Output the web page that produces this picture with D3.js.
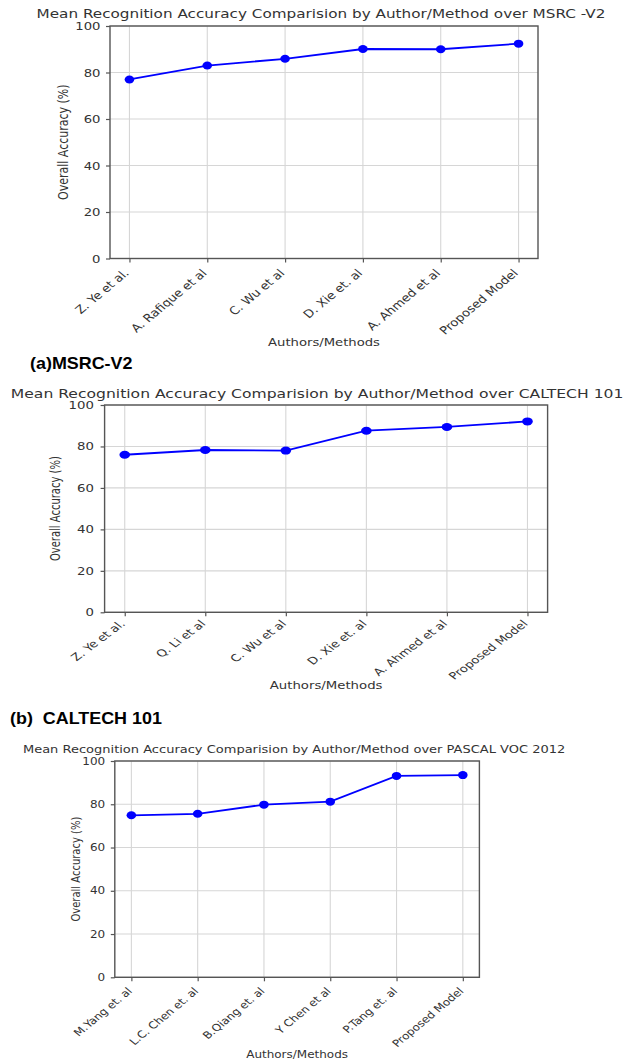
<!DOCTYPE html>
<html>
<head>
<meta charset="UTF-8">
<style>
    body { margin: 0; background: white; }
    text { font-family: "DejaVu Sans", sans-serif; fill: #333; }
    .grid line { stroke: #d6d6d6; stroke-width: 1.1; }
    .frame { fill: none; stroke: #555; stroke-width: 1.4; }
    .axis path { display: none; }
    .axis line { stroke: #555; stroke-width: 1.2; }
    .caption { font-family: "Liberation Sans", Arial, sans-serif; font-weight: bold; fill: #000; white-space: pre; }
</style>
</head>
<body>
<svg width="636" height="1064"></svg>
<script src="https://d3js.org/d3.v7.min.js"></script>
<script>
// data
var msrcMethods = ["Z. Ye et al.", "A. Rafique et al", "C. Wu et al", "D. Xie et. al", "A. Ahmed et al", "Proposed Model"];
var msrcAccuracy = [77.0, 83.0, 85.9, 90.1, 90.0, 92.4];

var caltechMethods = ["Z. Ye et al.", "Q. Li et al", "C. Wu et al", "D. Xie et. al", "A. Ahmed et al", "Proposed Model"];
var caltechAccuracy = [76.0, 78.3, 78.0, 87.6, 89.4, 92.1];

var pascalMethods = ["M.Yang et. al", "L.C. Chen et. al", "B.Qiang et. al", "Y Chen et al", "P.Tang et. al", "Proposed Model"];
var pascalAccuracy = [74.9, 75.6, 79.8, 81.2, 93.1, 93.5];

var yTicks = [0, 20, 40, 60, 80, 100];

var titles = [
    "Mean Recognition Accuracy Comparision by Author/Method over MSRC -V2",
    "Mean Recognition Accuracy Comparision by Author/Method over CALTECH 101",
    "Mean Recognition Accuracy Comparision by Author/Method over PASCAL VOC 2012"
];
var captions = ["(a)MSRC-V2", "(b)  CALTECH 101", null];

// the source figure is stretched sideways, so text gets a horizontal scale (sx)
var panels = [
    { methods: msrcMethods, values: msrcAccuracy, title: titles[0], caption: captions[0],
      left: 110, right: 538, top: 26, bottom: 258.5,
      titleDx: -3, titleY: 18, titleSize: 12, tsx: 1.27,
      fs: 11, sx: 1.2, lx: -3.5, ly: 12.5,
      yLabX: 63, xLabY: 346, capX: 30, capY: 369 },
    { methods: caltechMethods, values: caltechAccuracy, title: titles[1], caption: captions[1],
      left: 104.6, right: 547.6, top: 405, bottom: 612.3,
      titleDx: -9, titleY: 398, titleSize: 12, tsx: 1.3,
      fs: 10, sx: 1.33, lx: -2.6, ly: 9.6,
      yLabX: 55, xLabY: 689, capX: 10, capY: 724 },
    { methods: pascalMethods, values: pascalAccuracy, title: titles[2], caption: captions[2],
      left: 114.8, right: 479.4, top: 761, bottom: 977.3,
      titleDx: -3, titleY: 753, titleSize: 10.5, tsx: 1.24,
      fs: 10, sx: 1.2, lx: -2, ly: 12,
      yLabX: 75.5, xLabY: 1058 }
];

var svg = d3.select("svg");

panels.forEach(function(p) {
    var g = svg.append("g");

    var x = d3.scalePoint()
        .domain(p.methods)
        .range([p.left, p.right])
        .padding(0.25);

    var y = d3.scaleLinear()
        .domain([0, 100])
        .range([p.bottom, p.top]);

    // grid
    g.append("g").attr("class", "grid")
        .selectAll("line").data(yTicks).enter().append("line")
        .attr("x1", p.left).attr("x2", p.right)
        .attr("y1", function(d) { return y(d); })
        .attr("y2", function(d) { return y(d); });
    g.append("g").attr("class", "grid")
        .selectAll("line").data(p.methods).enter().append("line")
        .attr("x1", function(d) { return x(d); })
        .attr("x2", function(d) { return x(d); })
        .attr("y1", p.top).attr("y2", p.bottom);

    g.append("rect").attr("class", "frame")
        .attr("x", p.left).attr("y", p.top)
        .attr("width", p.right - p.left).attr("height", p.bottom - p.top);

    // y axis
    var ya = g.append("g").attr("class", "axis")
        .attr("transform", "translate(" + p.left + ",0)")
        .call(d3.axisLeft(y).tickValues(yTicks).tickSize(4).tickPadding(4));
    ya.selectAll("text")
        .style("font-size", p.fs + "px")
        .attr("fill", "#333")
        .attr("transform", "scale(" + p.sx + ",1)");

    // x axis
    var xa = g.append("g").attr("class", "axis")
        .attr("transform", "translate(0," + p.bottom + ")")
        .call(d3.axisBottom(x).tickSize(4));
    xa.selectAll("text")
        .style("font-size", p.fs + "px")
        .attr("fill", "#333")
        .attr("text-anchor", "end")
        .attr("x", 0).attr("y", 0).attr("dy", "0.35em")
        .attr("transform", "translate(" + p.lx + "," + p.ly + ") scale(" + p.sx + ",1) rotate(-45)");

    // line + markers
    var line = d3.line()
        .x(function(d, i) { return x(p.methods[i]); })
        .y(function(d) { return y(d); });
    g.append("path")
        .datum(p.values)
        .attr("d", line)
        .attr("fill", "none")
        .attr("stroke", "#0000ff")
        .attr("stroke-width", 1.8);
    g.selectAll("ellipse").data(p.values).enter().append("ellipse")
        .attr("cx", function(d, i) { return x(p.methods[i]); })
        .attr("cy", function(d) { return y(d); })
        .attr("rx", 4 * p.sx)
        .attr("ry", 4)
        .attr("fill", "#0000ff");

    // texts
    var cx = (p.left + p.right) / 2;
    g.append("text")
        .attr("transform", "translate(" + (cx + p.titleDx) + "," + p.titleY + ") scale(" + p.tsx + ",1)")
        .attr("text-anchor", "middle")
        .style("font-size", p.titleSize + "px")
        .text(p.title);

    g.append("text")
        .attr("transform", "translate(" + p.yLabX + "," + ((p.top + p.bottom) / 2) + ") scale(" + p.sx + ",1) rotate(-90)")
        .attr("text-anchor", "middle").attr("dy", "0.35em")
        .style("font-size", p.fs + "px")
        .text("Overall Accuracy (%)");

    g.append("text")
        .attr("transform", "translate(" + cx + "," + p.xLabY + ") scale(" + p.sx + ",1)")
        .attr("text-anchor", "middle")
        .style("font-size", p.fs + "px")
        .text("Authors/Methods");

    if (p.caption) {
        g.append("text").attr("class", "caption")
            .attr("transform", "translate(" + p.capX + "," + p.capY + ") scale(1.12,1)")
            .style("font-size", "16px")
            .text(p.caption);
    }
});
</script>
</body>
</html>
